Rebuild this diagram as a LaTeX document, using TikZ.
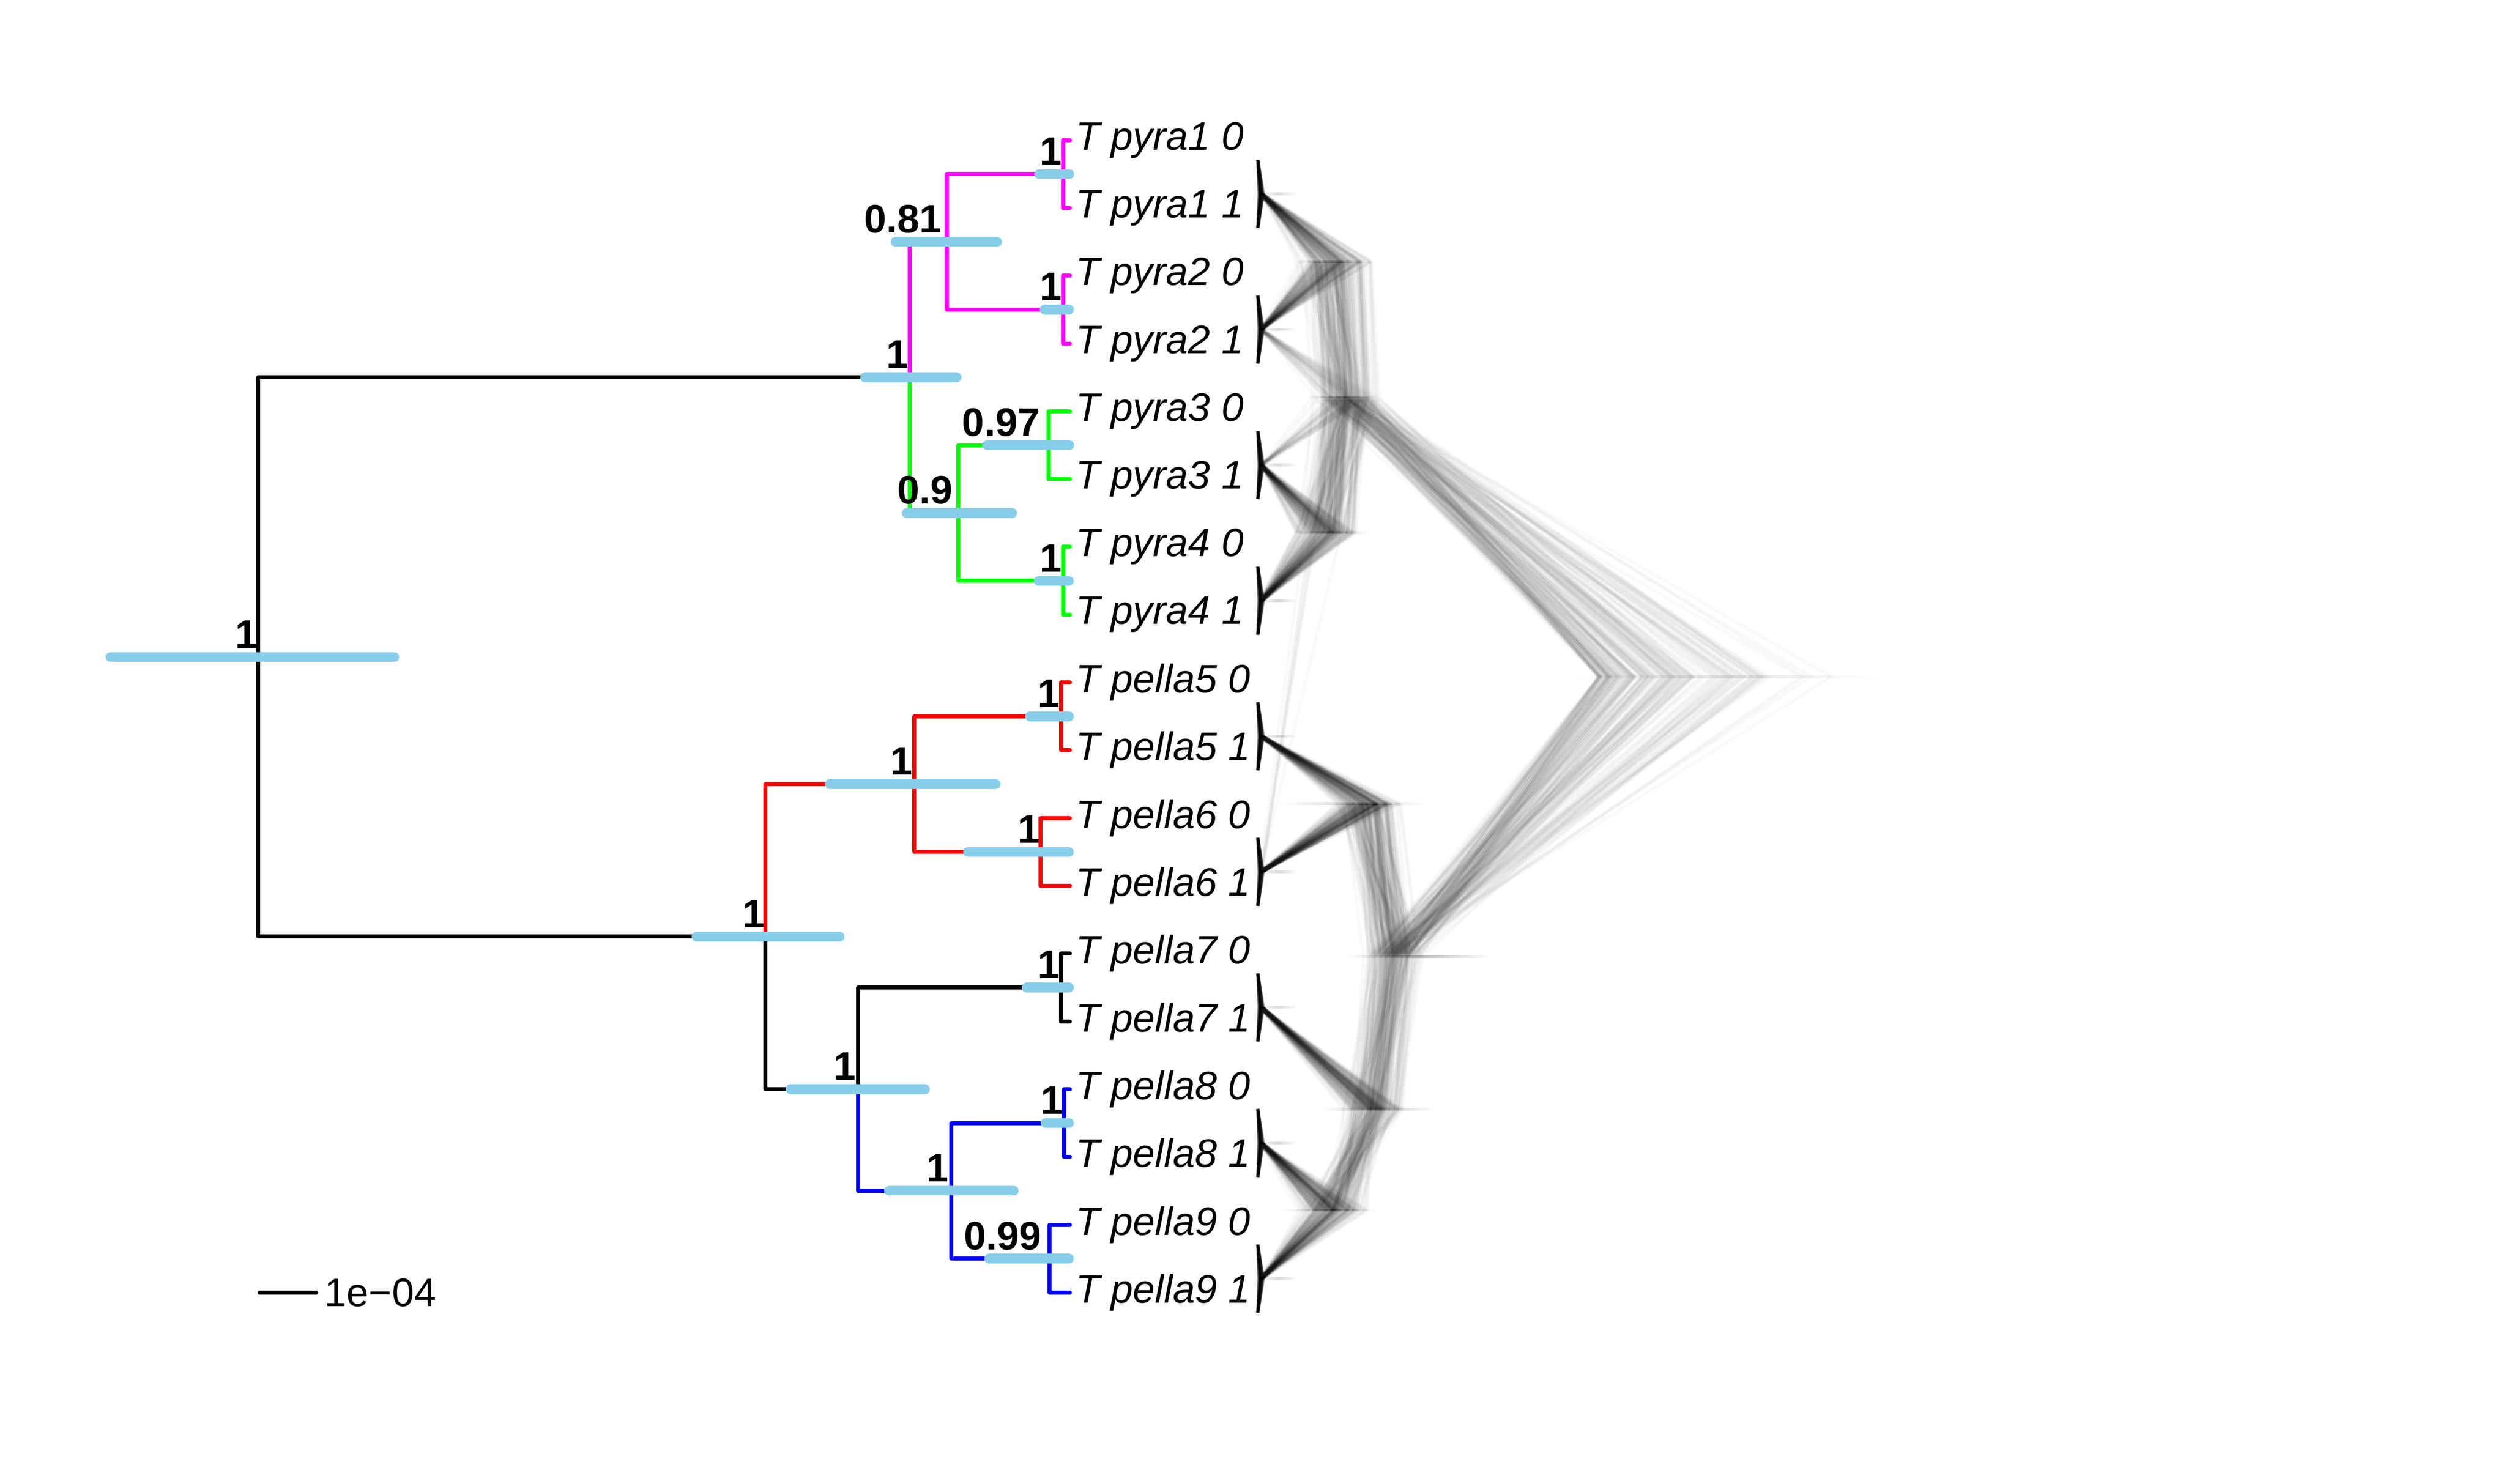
\documentclass[tikz,border=0pt]{standalone}
\usepackage{fontspec}
\setmainfont{Liberation Sans}
\definecolor{hpdblue}{RGB}{135,206,235}
\definecolor{cmag}{RGB}{255,0,255}
\definecolor{cgreen}{RGB}{0,255,0}
\definecolor{cred}{RGB}{255,0,0}
\definecolor{cblue}{RGB}{0,0,255}

\begin{document}
\begin{tikzpicture}[x=0.11107mm,y=-0.11107mm,
    br/.style={line width=0.78pt,line cap=round,line join=round},
    hpd/.style={line width=1.9pt,line cap=round,draw=hpdblue},
    cloud/.style={line width=0.6pt,draw=black,draw opacity=0.025},
    tiplab/.style={anchor=west,inner sep=0pt,font=\fontsize{7.75}{9}\selectfont\itshape},
    supp/.style={anchor=base east,inner sep=0pt,font=\fontsize{7.75}{9}\selectfont\bfseries}]
  \useasboundingbox (0,0) rectangle (1545,915);

  % densitree cloud
  \foreach \xa/\xb/\yy/\sh in {776/800/119.6/15,776/800/203.2/15,776/800/286.8/15,776/800/370.5/15,
      776/800/454.1/15,776/800/537.7/15,776/800/621.3/15,776/800/704.9/15,776/800/788.6/15,
      796/845/161.3/18,806/850/244.9/28,796/845/328.5/18,970/1160/417.4/10,
      790/880/495.7/18,830/920/589.9/28,815/885/684.1/20,790/850/746.4/18}
    \shade[left color=white,right color=white,middle color=black!\sh] (\xa,{\yy-0.7}) rectangle (\xb,{\yy+0.7});
  \pgfmathsetseed{7}
  \foreach \tr in {1,...,200}{
    \pgfmathsetmacro\hab{798+25*(rnd+rnd)}
    \pgfmathsetmacro\hcd{796+22*(rnd+rnd)}
    \pgfmathsetmacro\hpy{max(\hab,\hcd)+1+6*rnd}
    \pgfmathsetmacro\hef{822+22*(rnd+rnd)}
    \pgfmathsetmacro\hhi{800+22*(rnd+rnd)}
    \pgfmathsetmacro\hgi{max(\hhi+3,827+20*(rnd+rnd))}
    \pgfmathsetmacro\hpe{max(\hef,\hgi)+3+12*rnd}
    \pgfmathsetmacro\hrt{985+150*rnd*rnd}
    \foreach \pk/\hx/\hy/\pp in {0/\hab/161.3/0,1/\hab/161.3/0.2,2/\hcd/328.5/0.15,3/\hcd/328.5/0,
        4/\hef/495.7/0,5/\hef/495.7/0.05,6/\hgi/684.1/0,7/\hhi/746.4/0,8/\hhi/746.4/0}{
      \pgfmathsetmacro\qx{776+3*rnd}
      \pgfmathsetmacro\alt{rnd<\pp}
      \draw[cloud] (775.5,{98.7+83.62*\pk}) -- (\qx,{119.6+83.62*\pk}) -- (775.5,{140.5+83.62*\pk})
        (\qx,{119.6+83.62*\pk}) -- ({\hx+\alt*(\hpy-\hx)},{\hy+\alt*(244.9-\hy)});
    }
    \draw[cloud] (\hab,161.3) -- (\hpy,244.9) -- (\hcd,328.5)
      (\hpy,244.9) -- (\hrt,417.4) -- (\hpe,589.9) -- (\hef,495.7)
      (\hpe,589.9) -- (\hgi,684.1) -- (\hhi,746.4);
  }
  \foreach \pk in {0,...,8}
    \draw[line width=0.35pt] (775.5,{98.7+83.62*\pk}) -- (777,{119.6+83.62*\pk}) -- (775.5,{140.5+83.62*\pk});

  % tree
  \coordinate (root) at (159.2,405.2);
  \coordinate (pyr) at (560.7,232.7);
  \coordinate (pel) at (471.9,577.6);
  \coordinate (pyAB) at (583.8,149.1);
  \coordinate (pyCD) at (590.8,316.4);
  \coordinate (peEF) at (563.7,483.6);
  \coordinate (peGHI) at (528.9,671.7);
  \coordinate (peHI) at (586.4,734.4);
  \foreach \pk/\px in {0/655.3,1/655.3,2/646.4,3/655.3,4/654,5/641.6,6/654,7/656,8/647}
    \coordinate (p\pk) at (\px,{107.3+83.62*\pk});

  \draw[br] (root) |- (pyr);
  \draw[br] (root) |- (pel);
  \draw[br,cmag] (pyr) |- (pyAB);
  \draw[br,cmag] (pyAB) |- (p0);
  \draw[br,cmag] (pyAB) |- (p1);
  \draw[br,cgreen] (pyr) |- (pyCD);
  \draw[br,cgreen] (pyCD) |- (p2);
  \draw[br,cgreen] (pyCD) |- (p3);
  \draw[br,cred] (pel) |- (peEF);
  \draw[br,cred] (peEF) |- (p4);
  \draw[br,cred] (peEF) |- (p5);
  \draw[br] (pel) |- (peGHI);
  \draw[br] (peGHI) |- (p6);
  \draw[br,cblue] (peGHI) |- (peHI);
  \draw[br,cblue] (peHI) |- (p7);
  \draw[br,cblue] (peHI) |- (p8);

  \foreach \lab/\col [count=\ti from 0] in {pyra1 0/cmag,pyra1 1/cmag,pyra2 0/cmag,pyra2 1/cmag,
      pyra3 0/cgreen,pyra3 1/cgreen,pyra4 0/cgreen,pyra4 1/cgreen,
      pella5 0/cred,pella5 1/cred,pella6 0/cred,pella6 1/cred,
      pella7 0/black,pella7 1/black,pella8 0/cblue,pella8 1/cblue,pella9 0/cblue,pella9 1/cblue}{
    \pgfmathtruncatemacro\pk{\ti/2}
    \coordinate (t\ti) at (659.6,{86.4+41.81*\ti});
    \draw[br,\col] (p\pk) |- (t\ti);
    \node[tiplab] (lab\ti) at (662.5,{86.4+41.81*\ti}) {T \lab};
  }

  % HPD bars
  \foreach \xa/\xb/\yy in {65.1/246.1/405.2,530.3/592.7/232.7,549/617.7/149.1,637.6/662.2/107.3,
      641/662/190.9,605.5/662.2/274.5,556/627/316.4,637.4/662/358.2,426.4/520.7/577.6,
      508.5/616.8/483.6,632/662/441.8,593.8/662/525.4,484.4/573.2/671.7,630/662/609.0,
      545/628/734.4,641.6/662/692.6,606.8/662/776.2}
    \draw[hpd] ({\xa+3},\yy) -- ({\xb-3},\yy);

  % posterior support
  \foreach \nd/\sv/\dx [count=\si] in {root/1/0,pyr/1/0,pyAB/0.81/-2.7,p0/1/0,p1/1/0,pyCD/0.9/-2.8,
      p2/0.97/-4.8,p3/1/0,pel/1/0,peEF/1/-0.5,p4/1/0,p5/1/0,peGHI/1/-0.7,p6/1/0,
      peHI/1/-0.8,p7/1/0,p8/0.99/-4.4}
    \node[supp] (sl\si) at ([shift={(\dx,-5.6)}]\nd) {\sv};

  % scale bar
  \coordinate (sb0) at (160,797.2);
  \coordinate (sb1) at (195,797.2);
  \draw[br] (sb0) -- (sb1);
  \node[anchor=west,inner sep=0pt,font=\fontsize{7.75}{9}\selectfont] (sblab) at (199.5,797.2) {1e−04};
\end{tikzpicture}
\end{document}
